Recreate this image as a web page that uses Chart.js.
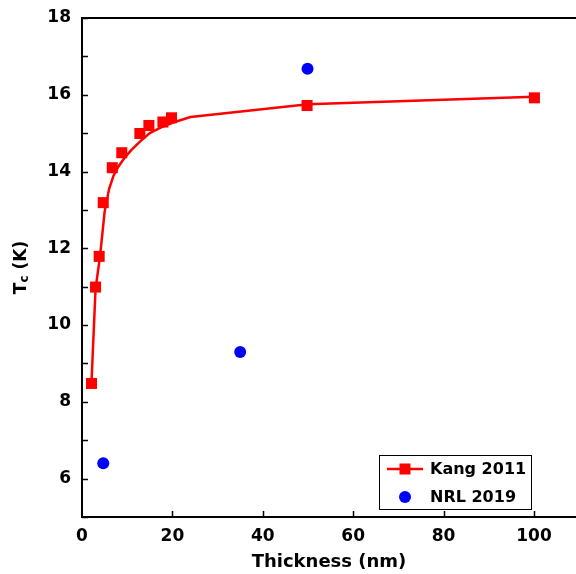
<!DOCTYPE html>
<html>
<head>
<meta charset="utf-8">
<title>Tc vs thickness</title>
<script src="https://cdn.jsdelivr.net/npm/chart.js@4.4.1/dist/chart.umd.min.js"></script>
<style>
  html, body { margin: 0; padding: 0; background: #fff; overflow: hidden; }
  #wrap { width: 576px; height: 574px; }
</style>
</head>
<body>
<div id="wrap"><canvas id="chart" width="576" height="574"></canvas></div>
<script>
// Data
const kangThickness = [2.1, 3.0, 3.8, 4.7, 6.7, 8.8, 12.8, 14.8, 17.9, 19.8, 49.8, 100.1];
const kangTc = [8.48, 10.99, 11.79, 13.19, 14.1, 14.49, 14.99, 15.2, 15.29, 15.4, 15.72, 15.92];

// fitted curve drawn through Kang data
const fitThickness = [2.1, 3.0, 4.0, 5.0, 6.0, 7.0, 8.0, 9.5, 11, 13, 15, 17.5, 20, 24, 50, 100];
const fitTc = [8.5, 10.95, 11.8, 12.95, 13.55, 13.9, 14.12, 14.37, 14.57, 14.8, 15.0, 15.15, 15.27, 15.42, 15.75, 15.95];

const nrlThickness = [4.7, 35.0, 49.9];
const nrlTc = [6.4, 9.3, 16.68];

const seriesNames = ['Kang 2011', 'NRL 2019'];
const xTitle = 'Thickness (nm)';
const yTitleMain = 'T';
const yTitleSub = 'c';
const yTitleRest = ' (K)';

const FONT = "'DejaVu Sans', sans-serif";
const RED = '#ff0000';
const BLUE = '#0000ff';

function toPoints(xs, ys) {
  return xs.map((x, i) => ({ x, y: ys[i] }));
}

// inward tick marks, top frame line, y title with subscript, boxed legend
const framePlugin = {
  id: 'frame',
  afterDraw(chart) {
    const ctx = chart.ctx;
    const a = chart.chartArea;
    const xs = chart.scales.x, ys = chart.scales.y;
    ctx.save();
    ctx.strokeStyle = '#000';
    ctx.lineWidth = 1.5;
    ys.ticks.forEach(t => {
      const py = Math.round(ys.getPixelForValue(t.value)) + 0.5;
      ctx.beginPath(); ctx.moveTo(a.left, py); ctx.lineTo(a.left + 6, py); ctx.stroke();
    });
    xs.ticks.forEach(t => {
      if (t.value === 0) return;
      const px = Math.round(xs.getPixelForValue(t.value)) + 0.5;
      ctx.beginPath(); ctx.moveTo(px, a.bottom); ctx.lineTo(px, a.bottom - 6); ctx.stroke();
    });
    // top frame
    ctx.lineWidth = 2;
    ctx.beginPath(); ctx.moveTo(a.left - 1, a.top); ctx.lineTo(a.right, a.top); ctx.stroke();

    // y axis title
    ctx.fillStyle = '#000';
    ctx.textBaseline = 'alphabetic';
    const big = 'bold 17px ' + FONT, small = 'bold 12px ' + FONT;
    ctx.font = big;
    const wT = ctx.measureText(yTitleMain).width;
    const wR = ctx.measureText(yTitleRest).width;
    ctx.font = small;
    const wC = ctx.measureText(yTitleSub).width;
    const total = wT + wC + wR;
    ctx.translate(26, (a.top + a.bottom) / 2);
    ctx.rotate(-Math.PI / 2);
    let cx = -total / 2;
    ctx.font = big; ctx.fillText(yTitleMain, cx, 0); cx += wT;
    ctx.font = small; ctx.fillText(yTitleSub, cx, 2); cx += wC;
    ctx.font = big; ctx.fillText(yTitleRest, cx, 0);
    ctx.setTransform(1, 0, 0, 1, 0, 0);

    // legend box
    const lx = 379, ly = 455, lw = 152, lh = 54;
    ctx.fillStyle = '#fff';
    ctx.fillRect(lx, ly, lw, lh);
    ctx.strokeStyle = '#000';
    ctx.lineWidth = 1;
    ctx.strokeRect(lx + 0.5, ly + 0.5, lw, lh);
    const r1 = ly + 14, r2 = ly + 42;
    ctx.strokeStyle = RED; ctx.lineWidth = 2.5;
    ctx.beginPath(); ctx.moveTo(lx + 8, r1); ctx.lineTo(lx + 44, r1); ctx.stroke();
    ctx.fillStyle = RED;
    ctx.fillRect(lx + 26 - 5.5, r1 - 5.5, 11, 11);
    ctx.fillStyle = BLUE;
    ctx.beginPath(); ctx.arc(lx + 26, r2, 6, 0, Math.PI * 2); ctx.fill();
    ctx.fillStyle = '#000';
    ctx.font = 'bold 16px ' + FONT;
    ctx.textBaseline = 'middle';
    ctx.fillText(seriesNames[0], lx + 51, r1 + 1);
    ctx.fillText(seriesNames[1], lx + 51, r2 + 1);
    ctx.restore();
  }
};

const chart = new Chart(document.getElementById('chart'), {
  type: 'scatter',
  data: {
    datasets: [
      {
        label: 'fit',
        data: toPoints(fitThickness, fitTc),
        showLine: true,
        borderColor: RED,
        borderWidth: 2.5,
        pointRadius: 0,
        tension: 0
      },
      {
        label: seriesNames[0],
        data: toPoints(kangThickness, kangTc),
        pointStyle: 'rect',
        pointRadius: 7.8,
        backgroundColor: RED,
        borderWidth: 0
      },
      {
        label: seriesNames[1],
        data: toPoints(nrlThickness, nrlTc),
        pointStyle: 'circle',
        pointRadius: 6,
        backgroundColor: BLUE,
        borderWidth: 0
      }
    ]
  },
  options: {
    responsive: false,
    animation: false,
    layout: { autoPadding: false, padding: { top: 18, right: 0, left: 0, bottom: 0 } },
    plugins: { legend: { display: false }, tooltip: { enabled: false } },
    scales: {
      x: {
        type: 'linear',
        min: 0,
        max: 109.3,
        grid: { display: false, drawTicks: false },
        border: { display: true, color: '#000', width: 2 },
        ticks: {
          stepSize: 20,
          includeBounds: false,
          autoSkip: false,
          maxRotation: 0,
          padding: 9,
          color: '#000',
          font: { family: FONT, size: 17, weight: 'bold' }
        },
        title: {
          display: true,
          text: xTitle,
          color: '#000',
          padding: { top: 0, bottom: 1 },
          font: { family: FONT, size: 18, weight: 'bold' }
        },
        afterFit(scale) {
          scale.height = 57;
          scale.paddingLeft = 0;
          scale.paddingRight = 0;
        }
      },
      y: {
        type: 'linear',
        min: 5,
        max: 18,
        grid: { display: false, drawTicks: false },
        border: { display: true, color: '#000', width: 2 },
        ticks: {
          stepSize: 1,
          autoSkip: false,
          padding: 11,
          color: '#000',
          font: { family: FONT, size: 17, weight: 'bold' },
          callback: v => (v % 2 === 0 ? v : '')
        },
        afterFit(scale) {
          scale.width = 82;
          scale.paddingTop = 0;
          scale.paddingBottom = 0;
        }
      }
    }
  },
  plugins: [framePlugin]
});
</script>
</body>
</html>
